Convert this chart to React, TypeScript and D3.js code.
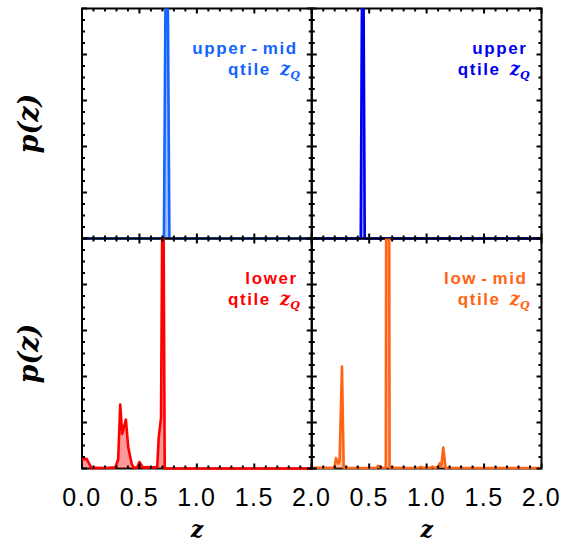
import React from 'react';
import * as d3 from 'd3';

// ---- data (z grid points and p(z) values) ----
const upperMidZ = [0, 0.713, 0.737, 0.761, 2.0];
const upperMidP = [0, 0, 1.8, 0, 0];

const upperZ = [0, 0.4265, 0.444, 0.4615, 2.0];
const upperP = [0, 0, 1.75, 0, 0];

const lowerZ = [0, 0.04, 0.085, 0.12, 0.2, 0.29, 0.315, 0.333, 0.35, 0.382, 0.403, 0.433, 0.45, 0.48, 0.5, 0.53, 0.56, 0.6, 0.64, 0.655, 0.668, 0.688, 0.705, 0.72, 2.0];
const lowerP = [0.039, 0.042, 0, 0.003, 0.002, 0.005, 0.04, 0.278, 0.15, 0.213, 0.091, 0.019, 0.004, 0.004, 0.028, 0.004, 0.006, 0.004, 0.006, 0.008, 0.135, 0.22, 1.6, 0, 0];

const lowMidZ = [0, 0.19, 0.2, 0.211, 0.231, 0.242, 0.263, 0.278, 0.31, 0.45, 0.56, 0.58, 0.6, 0.635, 0.6445, 0.661, 0.6775, 0.8, 0.93, 0.95, 0.97, 1.03, 1.05, 1.07, 1.1, 1.113, 1.128, 1.145, 1.165, 2.0];
const lowMidP = [0.003, 0.003, 0.01, 0.045, 0.022, 0.03, 0.443, 0.004, 0.003, 0.002, 0.003, 0.012, 0.003, 0.004, 0.004, 5.4, 0.004, 0.002, 0.003, 0.007, 0.003, 0.003, 0.008, 0.003, 0.006, 0.022, 0.012, 0.091, 0.003, 0.002];

const seriesNames = ['upper-mid', 'upper', 'lower', 'low-mid'];
const seriesColors = ['#1464ff', '#0000f0', '#ff0000', '#ff6414'];
const seriesZ = [upperMidZ, upperZ, lowerZ, lowMidZ];
const seriesP = [upperMidP, upperP, lowerP, lowMidP];
const panelCol = [0, 1, 0, 1];
const panelRow = [0, 0, 1, 1];

const xMajor = [0, 0.5, 1, 1.5, 2];
const xTickLabels = ['0.0', '0.5', '1.0', '1.5', '2.0'];
const yDomain = [0, 1];

// ---- layout ----
const W = 570, H = 540;
const left = 82, top = 8.5;
const pw = 229.75, ph = 230;

export default function App() {
  const x = d3.scaleLinear().domain([0, 2]).range([0, pw]);
  const y = d3.scaleLinear().domain(yDomain).range([ph, 0]);
  const xMinor = d3.range(0, 21).map((i) => i / 10);
  const yMinor = d3.range(0, 21).map((i) => i / 20);

  const panels = seriesNames.map((name, i) => {
    const pts: [number, number][] = seriesZ[i].map((z, k) => [z, seriesP[i][k]]);
    const line = d3.line<[number, number]>().x((d) => x(d[0])).y((d) => y(d[1]));
    const area = d3.area<[number, number]>().x((d) => x(d[0])).y0(y(0)).y1((d) => y(d[1]));
    const px = left + panelCol[i] * pw;
    const py = top + panelRow[i] * ph;
    return { name, i, pts, line, area, px, py, color: seriesColors[i] };
  });

  const tick = (key: string, x1: number, y1: number, x2: number, y2: number) => (
    <line key={key} x1={x1} y1={y1} x2={x2} y2={y2} stroke="#000" strokeWidth={2} />
  );

  const sans = "'Liberation Sans', Arial, sans-serif";
  const serif = "'DejaVu Serif', serif";

  return (
    <svg width={W} height={H} style={{ position: 'absolute', left: 0, top: 0, background: '#fff' }}>
      <defs>
        {panels.map((p) => (
          <clipPath id={`clip${p.i}`} key={p.i}>
            <rect x={-1} y={0} width={pw + 2} height={ph + 3} />
          </clipPath>
        ))}
      </defs>
      <rect x={0} y={0} width={W} height={H} fill="#fff" />
      {panels.map((p) => {
        const parts = p.name.split('-');
        return (
          <g key={p.i} transform={`translate(${p.px},${p.py})`}>
            <rect x={0} y={0} width={pw} height={ph} fill="none" stroke="#000" strokeWidth={2} />
            <g clipPath={`url(#clip${p.i})`}>
              <path d={p.area(p.pts) || ''} fill={p.color} fillOpacity={0.4} stroke="none" />
              <path d={p.line(p.pts) || ''} fill="none" stroke={p.color} strokeWidth={2.6} strokeLinejoin="round" />
            </g>
            {xMinor.map((v, k) => {
              const major = xMajor.includes(Math.round(v * 10) / 10);
              const len = major ? 5 : 3;
              return (
                <g key={`xt${k}`}>
                  {tick(`b${k}`, x(v), ph, x(v), ph - len)}
                  {tick(`t${k}`, x(v), 0, x(v), len)}
                </g>
              );
            })}
            {yMinor.map((v, k) => {
              const major = k % 4 === 0;
              const len = major ? 5 : 3;
              return (
                <g key={`yt${k}`}>
                  {tick(`l${k}`, 0, y(v), len, y(v))}
                  {tick(`r${k}`, pw, y(v), pw - len, y(v))}
                </g>
              );
            })}
            <text
              x={pw - 14}
              y={45}
              textAnchor="end"
              fill={p.color}
              fontFamily={sans}
              fontWeight="bold"
              fontSize={17}
              letterSpacing={1.6}
            >
              {parts.length > 1 ? (
                <>
                  <tspan>{parts[0]}</tspan>
                  <tspan dx={4}>-</tspan>
                  <tspan dx={4}>{parts[1]}</tspan>
                </>
              ) : (
                p.name
              )}
            </text>
            <text
              x={pw - 12}
              y={66}
              textAnchor="end"
              fill={p.color}
              fontFamily={sans}
              fontWeight="bold"
              fontSize={17}
            >
              <tspan letterSpacing={1.6}>qtile</tspan>
              <tspan dx={9} fontFamily={serif} fontStyle="italic" fontWeight="bold" fontSize={18}>z</tspan>
              <tspan dy={4} fontFamily={serif} fontStyle="italic" fontWeight="bold" fontSize={11}>Q</tspan>
            </text>
          </g>
        );
      })}
      {/* x tick labels */}
      {[0, 1].map((col) =>
        xMajor.map((v, k) =>
          col === 1 && k === 0 ? null : (
            <text
              key={`xl${col}${k}`}
              x={left + col * pw + x(v)}
              y={505.5}
              textAnchor="middle"
              fontFamily={sans}
              fontSize={25}
              letterSpacing={1.5}
              fill="#000"
            >
              {xTickLabels[k]}
            </text>
          )
        )
      )}
      {/* x axis titles */}
      {[0, 1].map((col) => (
        <text
          key={`xa${col}`}
          x={left + col * pw + pw / 2}
          y={536.5}
          textAnchor="middle"
          fontFamily={serif}
          fontStyle="italic"
          fontWeight="bold"
          fontSize={22}
          fill="#000"
        >
          z
        </text>
      ))}
      {/* y axis titles */}
      {[0, 1].map((row) => (
        <text
          key={`ya${row}`}
          transform={`translate(38,${top + row * ph + ph / 2}) rotate(-90)`}
          textAnchor="middle"
          fontFamily={serif}
          fontStyle="italic"
          fontWeight="bold"
          fontSize={27}
          fill="#000"
        >
          p(z)
        </text>
      ))}
    </svg>
  );
}
